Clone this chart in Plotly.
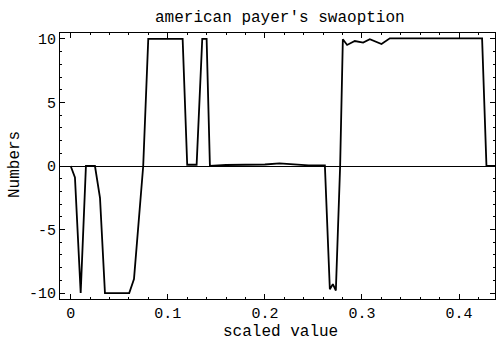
import plotly.graph_objects as go

# data
x_vals = [0.0, 0.0044, 0.0103, 0.0157, 0.025, 0.0302, 0.0353, 0.0603, 0.0652,
          0.0747, 0.0799, 0.1153, 0.12, 0.1297, 0.1355, 0.14, 0.1434,
          0.16, 0.18, 0.2, 0.215, 0.23, 0.245, 0.2618,
          0.2669, 0.27, 0.2731, 0.2775, 0.2803, 0.2847, 0.2926, 0.3012, 0.3081,
          0.3201, 0.3287, 0.4237, 0.4282, 0.44]
y_vals = [0.0, -0.9, -10.0, 0.0, 0.0, -2.5, -10.0, -10.0, -8.9,
          0.0, 10.0, 10.0, 0.1, 0.1, 10.0, 10.0, 0.0,
          0.08, 0.1, 0.12, 0.2, 0.1, 0.05, 0.05,
          -9.7, -9.3, -9.8, 0.0, 9.98, 9.53, 9.84, 9.71, 9.98,
          9.6, 10.05, 10.05, 0.0, 0.0]

x_ticks = [0, 0.1, 0.2, 0.3, 0.4]
x_tick_labels = ["0", "0.1", "0.2", "0.3", "0.4"]
y_ticks = [-10, -5, 0, 5, 10]
y_tick_labels = ["-10", "-5", "0", "5", "10"]

font = "Liberation Mono, Courier New, monospace"
W, H = 496, 347
L, R, T, B = 60, 1, 33, 48

fig = go.Figure()
fig.add_trace(go.Scatter(x=x_vals, y=y_vals, mode="lines",
                         line=dict(color="black", width=1.8), showlegend=False))

def px_x(p):
    return (p - L) / (W - L - R)

def px_y(p):
    return (H - B - p) / (H - T - B)

fig.update_layout(
    width=W, height=H,
    margin=dict(l=L, r=R, t=T, b=B),
    paper_bgcolor="white", plot_bgcolor="white",
    font=dict(family=font, color="black", size=14),
    annotations=[
        dict(text="american payer's swaoption", x=px_x(280), y=px_y(18),
             xref="paper", yref="paper", showarrow=False,
             xanchor="center", yanchor="middle", font=dict(family=font, size=16)),
        dict(text="scaled value", x=px_x(280), y=px_y(332),
             xref="paper", yref="paper", showarrow=False,
             xanchor="center", yanchor="middle", font=dict(family=font, size=16)),
        dict(text="Numbers", x=px_x(15), y=px_y(165), textangle=-90,
             xref="paper", yref="paper", showarrow=False,
             xanchor="center", yanchor="middle", font=dict(family=font, size=16)),
    ],
)
fig.update_xaxes(
    range=[-0.011, 0.437], tickvals=x_ticks, ticktext=x_tick_labels,
    ticks="inside", ticklen=5, tickcolor="black", mirror="ticks",
    showline=True, linecolor="black", linewidth=1.2, showgrid=False, zeroline=False,
    minor=dict(ticks="inside", ticklen=2, tickcolor="black", dtick=0.02),
    automargin=False, tickfont=dict(size=15),
)
fig.update_yaxes(
    range=[-10.47, 10.47], tickvals=y_ticks, ticktext=y_tick_labels,
    ticks="inside", ticklen=5, tickcolor="black", mirror="ticks",
    showline=True, linecolor="black", linewidth=1.2, showgrid=False,
    zeroline=True, zerolinecolor="black", zerolinewidth=1.2,
    minor=dict(ticks="inside", ticklen=2, tickcolor="black", dtick=1),
    automargin=False, tickfont=dict(size=15),
)

fig.write_html(
    "out.html",
    config={"responsive": False, "displayModeBar": False},
    post_script="document.body.style.margin='0px';document.body.style.padding='0px';"
                "document.documentElement.style.overflow='hidden';",
)
